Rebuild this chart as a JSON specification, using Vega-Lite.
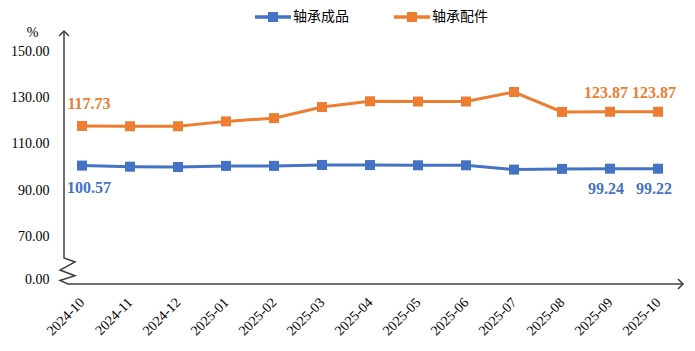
{
  "$schema": "https://vega.github.io/schema/vega-lite/v6.json",
  "width": 619,
  "height": 253,
  "autosize": {"type": "none"},
  "padding": {"left": 64, "top": 31, "right": 12, "bottom": 67},
  "background": "white",
  "config": {"view": {"stroke": null}, "font": "Liberation Serif"},
  "datasets": {
    "main": [
      {"month": "2024-10", "i": 0, "series": "轴承成品", "value": 100.57},
      {"month": "2024-11", "i": 1, "series": "轴承成品", "value": 100.1},
      {"month": "2024-12", "i": 2, "series": "轴承成品", "value": 99.95},
      {"month": "2025-01", "i": 3, "series": "轴承成品", "value": 100.45},
      {"month": "2025-02", "i": 4, "series": "轴承成品", "value": 100.45},
      {"month": "2025-03", "i": 5, "series": "轴承成品", "value": 100.85},
      {"month": "2025-04", "i": 6, "series": "轴承成品", "value": 100.8},
      {"month": "2025-05", "i": 7, "series": "轴承成品", "value": 100.7},
      {"month": "2025-06", "i": 8, "series": "轴承成品", "value": 100.7},
      {"month": "2025-07", "i": 9, "series": "轴承成品", "value": 98.85},
      {"month": "2025-08", "i": 10, "series": "轴承成品", "value": 99.15},
      {"month": "2025-09", "i": 11, "series": "轴承成品", "value": 99.24},
      {"month": "2025-10", "i": 12, "series": "轴承成品", "value": 99.22},
      {"month": "2024-10", "i": 0, "series": "轴承配件", "value": 117.73},
      {"month": "2024-11", "i": 1, "series": "轴承配件", "value": 117.6},
      {"month": "2024-12", "i": 2, "series": "轴承配件", "value": 117.6},
      {"month": "2025-01", "i": 3, "series": "轴承配件", "value": 119.7},
      {"month": "2025-02", "i": 4, "series": "轴承配件", "value": 121.1},
      {"month": "2025-03", "i": 5, "series": "轴承配件", "value": 125.9},
      {"month": "2025-04", "i": 6, "series": "轴承配件", "value": 128.4},
      {"month": "2025-05", "i": 7, "series": "轴承配件", "value": 128.3},
      {"month": "2025-06", "i": 8, "series": "轴承配件", "value": 128.3},
      {"month": "2025-07", "i": 9, "series": "轴承配件", "value": 132.4},
      {"month": "2025-08", "i": 10, "series": "轴承配件", "value": 123.8},
      {"month": "2025-09", "i": 11, "series": "轴承配件", "value": 123.87},
      {"month": "2025-10", "i": 12, "series": "轴承配件", "value": 123.87}
    ],
    "frame": [
      {"o": 0, "fx": -0.375, "fy": 158.8},
      {"o": 1, "fx": -0.375, "fy": 60.6},
      {"o": 2, "fx": -0.146, "fy": 58.9},
      {"o": 3, "fx": -0.458, "fy": 55.4},
      {"o": 4, "fx": -0.146, "fy": 52.9},
      {"o": 5, "fx": -0.458, "fy": 50.9},
      {"o": 6, "fx": -0.292, "fy": 49.35},
      {"o": 7, "fx": 12.52, "fy": 49.35}
    ]
  },
  "layer": [
    {
      "data": {"name": "main"},
      "mark": {"type": "point", "shape": "square", "filled": true, "size": 100, "opacity": 1},
      "encoding": {
        "x": {
          "field": "i", "type": "quantitative",
          "scale": {"domain": [-0.375, 12.52], "nice": false, "zero": false},
          "axis": {
            "values": [0, 1, 2, 3, 4, 5, 6, 7, 8, 9, 10, 11, 12],
            "labelExpr": "['2024-10','2024-11','2024-12','2025-01','2025-02','2025-03','2025-04','2025-05','2025-06','2025-07','2025-08','2025-09','2025-10'][datum.value]",
            "title": null, "domain": false, "ticks": false, "grid": false,
            "labelAngle": -45, "labelAlign": "right", "labelBaseline": "middle",
            "labelPadding": 16, "labelFont": "Liberation Serif", "labelFontSize": 14,
            "labelColor": "#000000", "labelFlush": false, "labelOverlap": false
          }
        },
        "y": {
          "field": "value", "type": "quantitative",
          "scale": {"domain": [49.35, 158.8], "nice": false, "zero": false},
          "axis": {
            "values": [51.5, 70, 90, 110, 130, 150],
            "labelExpr": "datum.value < 60 ? '0.00' : format(datum.value, '.2f')",
            "title": "%", "titleAngle": 0, "titleX": -32, "titleY": 1,
            "titleAlign": "center", "titleBaseline": "middle",
            "titleFont": "Liberation Serif", "titleFontSize": 14, "titleFontWeight": "normal", "titleColor": "#000000",
            "domain": false, "ticks": false, "grid": false,
            "labelPadding": 15, "labelFont": "Liberation Serif", "labelFontSize": 14,
            "labelColor": "#000000", "labelFlush": false, "labelOverlap": false
          }
        },
        "color": {
          "field": "series", "type": "nominal",
          "scale": {"domain": ["轴承成品", "轴承配件"], "range": ["#4472C4", "#ED7D31"]},
          "legend": {
            "title": null, "orient": "none", "legendX": 191, "legendY": -32,
            "direction": "horizontal",
            "symbolType": "M-1,-0.1H1V0.1H-1Z M-0.28,-0.28H0.28V0.28H-0.28Z",
            "symbolSize": 1296, "symbolStrokeWidth": 0, "symbolOpacity": 1,
            "labelFont": "Noto Sans CJK SC", "labelFontSize": 14, "labelColor": "#000000",
            "labelOffset": 2, "columnPadding": 45
          }
        }
      }
    },
    {
      "data": {"name": "main"},
      "mark": {"type": "line", "strokeWidth": 3},
      "encoding": {
        "x": {"field": "i", "type": "quantitative"},
        "y": {"field": "value", "type": "quantitative"},
        "color": {
          "field": "series", "type": "nominal",
          "scale": {"domain": ["轴承成品", "轴承配件"], "range": ["#4472C4", "#ED7D31"]},
          "legend": {
            "title": null, "orient": "none", "legendX": 191, "legendY": -32,
            "direction": "horizontal",
            "symbolType": "M-1,-0.1H1V0.1H-1Z M-0.28,-0.28H0.28V0.28H-0.28Z",
            "symbolSize": 1296, "symbolStrokeWidth": 0, "symbolOpacity": 1,
            "labelFont": "Noto Sans CJK SC", "labelFontSize": 14, "labelColor": "#000000",
            "labelOffset": 2, "columnPadding": 45
          }
        }
      }
    },
    {
      "data": {"name": "frame"},
      "mark": {"type": "line", "color": "#404040", "strokeWidth": 1.5},
      "encoding": {
        "x": {"field": "fx", "type": "quantitative"},
        "y": {"field": "fy", "type": "quantitative"},
        "order": {"field": "o", "type": "quantitative"}
      }
    },
    {
      "data": {"values": [{}]},
      "mark": {"type": "point", "shape": "M-1,1L0,0L1,1", "filled": false, "size": 100, "stroke": "#404040", "strokeWidth": 1.5, "opacity": 1},
      "encoding": {
        "x": {"datum": -0.375, "type": "quantitative"},
        "y": {"datum": 158.8, "type": "quantitative"}
      }
    },
    {
      "data": {"values": [{}]},
      "mark": {"type": "point", "shape": "M-1,-1L0,0L-1,1", "filled": false, "size": 100, "stroke": "#404040", "strokeWidth": 1.5, "opacity": 1},
      "encoding": {
        "x": {"datum": 12.52, "type": "quantitative"},
        "y": {"datum": 49.35, "type": "quantitative"}
      }
    },
    {
      "data": {"name": "main"},
      "transform": [{"filter": "datum.series == '轴承配件' && datum.i == 0"}],
      "mark": {"type": "text", "font": "Liberation Serif", "fontSize": 16, "fontWeight": "bold", "color": "#ED7D31", "dx": 7, "dy": -22, "baseline": "middle"},
      "encoding": {
        "x": {"field": "i", "type": "quantitative"},
        "y": {"field": "value", "type": "quantitative"},
        "text": {"field": "value", "type": "quantitative", "format": ".2f"}
      }
    },
    {
      "data": {"name": "main"},
      "transform": [{"filter": "datum.series == '轴承配件' && datum.i >= 11"}],
      "mark": {"type": "text", "font": "Liberation Serif", "fontSize": 16, "fontWeight": "bold", "color": "#ED7D31", "dx": -4, "dy": -19, "baseline": "middle"},
      "encoding": {
        "x": {"field": "i", "type": "quantitative"},
        "y": {"field": "value", "type": "quantitative"},
        "text": {"field": "value", "type": "quantitative", "format": ".2f"}
      }
    },
    {
      "data": {"name": "main"},
      "transform": [{"filter": "datum.series == '轴承成品' && datum.i == 0"}],
      "mark": {"type": "text", "font": "Liberation Serif", "fontSize": 16, "fontWeight": "bold", "color": "#4472C4", "dx": 7, "dy": 22, "baseline": "middle"},
      "encoding": {
        "x": {"field": "i", "type": "quantitative"},
        "y": {"field": "value", "type": "quantitative"},
        "text": {"field": "value", "type": "quantitative", "format": ".2f"}
      }
    },
    {
      "data": {"name": "main"},
      "transform": [{"filter": "datum.series == '轴承成品' && datum.i >= 11"}],
      "mark": {"type": "text", "font": "Liberation Serif", "fontSize": 16, "fontWeight": "bold", "color": "#4472C4", "dx": -4, "dy": 20, "baseline": "middle"},
      "encoding": {
        "x": {"field": "i", "type": "quantitative"},
        "y": {"field": "value", "type": "quantitative"},
        "text": {"field": "value", "type": "quantitative", "format": ".2f"}
      }
    }
  ]
}
